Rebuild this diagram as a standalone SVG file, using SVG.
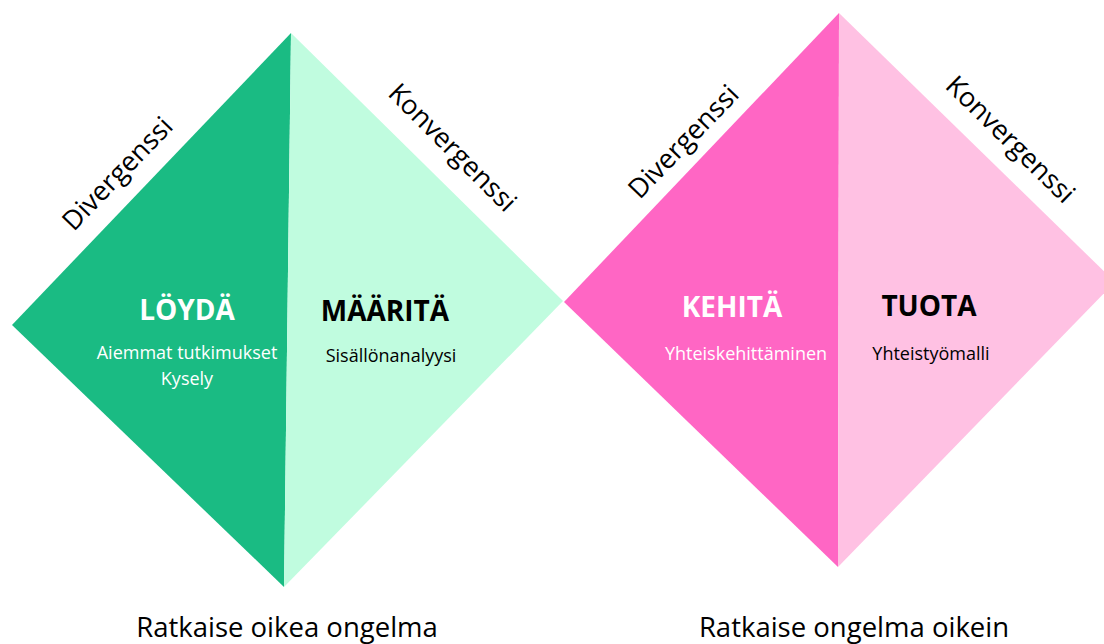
<svg xmlns="http://www.w3.org/2000/svg" width="1104" height="644" viewBox="0 0 1104 644">
<style>
text{font-family:"Open Sans","Noto Sans","Liberation Sans",sans-serif;}
.title{font-size:28px;font-weight:bold;text-anchor:middle;}
.sub{font-size:18px;text-anchor:middle;}
.edge{font-size:27px;fill:#000;text-anchor:middle;}
.foot{font-size:27.5px;fill:#000;text-anchor:middle;}
.w{fill:#ffffff;}
.k{fill:#000000;}
</style>
<rect width="1104" height="644" fill="#ffffff"/>
<g id="loyda">
<polygon points="12,325 291,33 284,587" fill="#1abb83"/>
<text class="title w" x="187" y="320">LÖYDÄ</text>
<text class="sub w" x="187" y="359">Aiemmat tutkimukset</text>
<text class="sub w" x="187" y="385">Kysely</text>
</g>
<g id="maarita">
<polygon points="291,33 563,301 284,587" fill="#c0fcdf"/>
<text class="title k" x="385" y="321">MÄÄRITÄ</text>
<text class="sub k" x="391" y="362">Sisällönanalyysi</text>
</g>
<g id="kehita">
<polygon points="564,302 839,13 838,567" fill="#ff66c4"/>
<text class="title w" x="732" y="317">KEHITÄ</text>
<text class="sub w" x="746" y="360">Yhteiskehittäminen</text>
</g>
<g id="tuota">
<polygon points="839,13 1115,282 838,567" fill="#ffc1e3"/>
<text class="title k" x="929" y="316">TUOTA</text>
<text class="sub k" x="931" y="360">Yhteistyömalli</text>
</g>
<g id="labels">
<text class="edge" transform="translate(124,180) rotate(-46)">Divergenssi</text>
<text class="edge" transform="translate(446,154) rotate(45)">Konvergenssi</text>
<text class="edge" transform="translate(690,148) rotate(-46)">Divergenssi</text>
<text class="edge" transform="translate(1004,146) rotate(44.5)">Konvergenssi</text>
<text class="foot" x="287" y="637">Ratkaise oikea ongelma</text>
<text class="foot" x="854" y="637">Ratkaise ongelma oikein</text>
</g>
</svg>
